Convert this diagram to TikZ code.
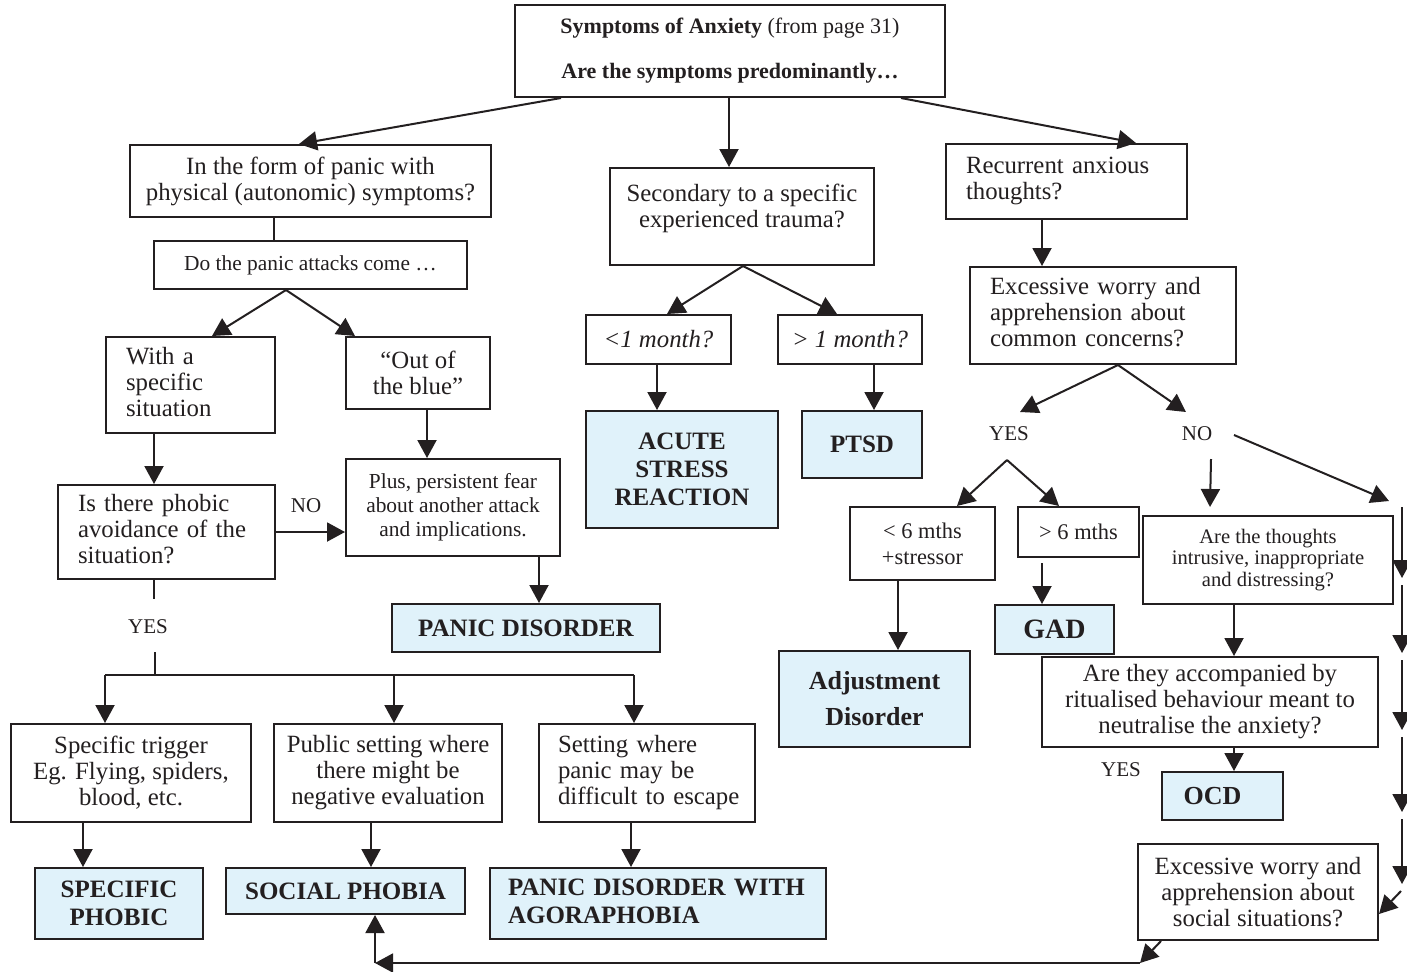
\documentclass[tikz,border=0pt]{standalone}
\usepackage{fontspec}
\setmainfont{Liberation Serif}
\usetikzlibrary{arrows.meta,calc}
\definecolor{dxblue}{RGB}{224,242,250}
\definecolor{ink}{RGB}{35,31,32}
\newcommand{\mybox}[7]{\node[#6,minimum width={(#4-#2)*0.5pt},minimum height={(#5-#3)*0.5pt}] (#1) at ({(#2+#4)/2},{(#3+#5)/2}) {#7};}
\newcommand{\ltab}[1]{\begin{tabular}{@{}l@{}}#1\end{tabular}}
\begin{document}
\begin{tikzpicture}[x=0.5pt,y=-0.5pt,
 box/.style={draw=ink,line width=1pt,fill=white,inner sep=0pt,align=center,text=ink,font=\fontsize{12.4}{13}\selectfont},
 dx/.style={box,fill=dxblue,font=\fontsize{12.5}{14}\selectfont\bfseries},
 lbox/.style={box,align=left,text width=#1},
 arr/.style={draw=ink,line width=1pt,-{Triangle[length=9pt,width=9.5pt]}},
 ln/.style={draw=ink,line width=1pt},
 lab/.style={inner sep=0pt,text=ink,font=\fontsize{10.5}{12}\selectfont}]
\useasboundingbox[fill=white] (0,0) rectangle (1407,971);

% ---- boxes ----
\mybox{top}{515}{5}{945}{97}{box,font=\fontsize{11}{12}\selectfont}{\textbf{Symptoms of Anxiety} (from page 31)\\[10.5pt]\textbf{Are the symptoms predominantly…}}
\mybox{panic}{130}{145}{491}{217}{box}{In the form of panic with\\physical (autonomic) symptoms?}
\mybox{second}{610}{168}{874}{265}{box}{Secondary to a specific\\experienced trauma?\\[-2pt]\mbox{}}
\mybox{recur}{946}{144}{1187}{219}{lbox=100.5pt}{\ltab{Recurrent anxious\\thoughts?}}
\mybox{dopanic}{154}{241}{467}{289}{box,font=\fontsize{10.7}{12}\selectfont}{Do the panic attacks come …}
\mybox{witha}{106}{337}{275}{433}{lbox=64.5pt}{\ltab{With a\\specific\\situation}}
\mybox{outblue}{346}{337}{490}{409}{box}{“Out of\\the blue”}
\mybox{ltone}{586}{315}{731}{364}{box,font=\fontsize{12.4}{13}\selectfont\itshape}{<1 month?}
\mybox{gtone}{778}{315}{922}{364}{box,font=\fontsize{12.4}{13}\selectfont\itshape}{> 1 month?}
\mybox{acute}{586}{411}{778}{528}{dx}{ACUTE\\STRESS\\REACTION}
\mybox{ptsd}{802}{411}{922}{478}{dx}{PTSD}
\mybox{excess}{970}{267}{1236}{364}{lbox=113pt}{\ltab{Excessive worry and\\apprehension about\\common concerns?}}
\mybox{ltsix}{850}{507}{995}{580}{box,font=\fontsize{11.2}{13}\selectfont}{< 6 mths\\+stressor}
\mybox{gtsix}{1018}{507}{1139}{557}{box,font=\fontsize{11.2}{13}\selectfont}{> 6 mths}
\mybox{adj}{779}{651}{970}{747}{dx,font=\fontsize{13}{14}\selectfont\bfseries}{Adjustment\\[4pt]Disorder}
\mybox{gad}{995}{605}{1114}{654}{dx,font=\fontsize{14}{15}\selectfont\bfseries}{GAD}
\mybox{intru}{1143}{516}{1393}{604}{box,font=\fontsize{10.3}{10.6}\selectfont}{Are the thoughts\\intrusive, inappropriate\\and distressing?}
\mybox{accomp}{1042}{657}{1378}{747}{box}{Are they accompanied by\\ritualised behaviour meant to\\neutralise the anxiety?}
\mybox{ocd}{1162}{772}{1283}{820}{dx,font=\fontsize{13}{14}\selectfont\bfseries}{OCD\hspace{10pt}}
\mybox{social}{1138}{844}{1378}{940}{box}{Excessive worry and\\apprehension about\\social situations?}
\mybox{isthere}{58}{485}{275}{579}{lbox=88.5pt}{\ltab{Is there phobic\\avoidance of the\\situation?}}
\mybox{plus}{346}{459}{560}{556}{box,font=\fontsize{10.7}{12}\selectfont}{Plus, persistent fear\\about another attack\\and implications.}
\mybox{pd}{392}{604}{660}{652}{dx}{PANIC DISORDER}
\mybox{trig}{11}{724}{251}{822}{box}{Specific trigger\\Eg. Flying, spiders,\\blood, etc.}
\mybox{public}{274}{724}{502}{822}{box}{Public setting where\\there might be\\negative evaluation}
\mybox{setting}{539}{724}{755}{822}{lbox=89pt}{\ltab{Setting where\\panic may be\\difficult to escape}}
\mybox{spec}{35}{868}{203}{939}{dx}{SPECIFIC\\PHOBIC}
\mybox{socph}{226}{868}{465}{914}{dx}{SOCIAL PHOBIA}
\mybox{pdag}{490}{868}{826}{939}{dx,align=left,text width=150pt}{\ltab{PANIC DISORDER WITH\\AGORAPHOBIA}}

% ---- labels ----
\node[lab] (yesA) at (148,627) {YES};
\node[lab] (noA) at (306,506) {NO};
\node[lab] (yesB) at (1009,434) {YES};
\node[lab] (noB) at (1197,434) {NO};
\node[lab] (yesC) at (1121,770) {YES};

% ---- top level ----
\draw[arr] ($(top.south west)+(47,0)$) -- ($(panic.north west)+(170,0)$);
\draw[arr] ($(top.south west)+(215,0)$) -- ($(second.north west)+(120,0)$);
\draw[arr] ($(top.south east)+(-45,0)$) -- ($(recur.north west)+(191,0)$);

% ---- panic branch ----
\draw[ln] ($(panic.south west)+(145,0)$) -- ($(dopanic.north west)+(121,0)$);
\draw[arr] ($(dopanic.south west)+(133,0)$) -- ($(witha.north west)+(107,0)$);
\draw[arr] ($(dopanic.south west)+(133,0)$) -- ($(outblue.north west)+(10,0)$);
\draw[arr] ($(witha.south west)+(49,0)$) -- ($(isthere.north west)+(97,0)$);
\draw[arr] (isthere.east) -- (isthere.east -| plus.west);
\draw[arr] ($(outblue.south west)+(82,0)$) -- ($(plus.north west)+(82,0)$);
\draw[arr] ($(plus.south west)+(194,0)$) -- ($(pd.north west)+(148,0)$);
\draw[ln] ($(isthere.south west)+(97,0)$) -- ($(isthere.south west)+(97,19)$);
\coordinate (split) at (155,676);
\draw[ln] ($(split)+(0,-24)$) -- (split);
\draw[ln] ($(trig.north west)+(95,-48)$) -- ($(setting.north west)+(96,-48)$);
\draw[arr] ($(trig.north west)+(95,-48)$) -- ($(trig.north west)+(95,0)$);
\draw[arr] ($(public.north west)+(121,-48)$) -- ($(public.north west)+(121,0)$);
\draw[arr] ($(setting.north west)+(96,-48)$) -- ($(setting.north west)+(96,0)$);
\draw[arr] ($(trig.south west)+(73,0)$) -- ($(spec.north west)+(49,0)$);
\draw[arr] ($(public.south west)+(98,0)$) -- ($(socph.north west)+(146,0)$);
\draw[arr] ($(setting.south west)+(93,0)$) -- ($(pdag.north west)+(142,0)$);

% ---- trauma branch ----
\draw[arr] ($(second.south west)+(134,0)$) -- ($(ltone.north west)+(82,0)$);
\draw[arr] ($(second.south west)+(134,0)$) -- ($(gtone.north west)+(60,0)$);
\draw[arr] ($(ltone.south west)+(72,0)$) -- ($(acute.north west)+(72,0)$);
\draw[arr] ($(gtone.south west)+(97,0)$) -- ($(ptsd.north west)+(73,0)$);

% ---- thoughts branch ----
\draw[arr] ($(recur.south west)+(97,0)$) -- ($(excess.north west)+(73,0)$);
\draw[arr] ($(excess.south west)+(149,0)$) -- ($(yesB)+(11,-22)$);
\draw[arr] ($(excess.south west)+(149,0)$) -- ($(noB)+(-11,-22)$);
\draw[arr] ($(yesB)+(-2,26)$) -- ($(ltsix.north west)+(108,0)$);
\draw[arr] ($(yesB)+(-2,26)$) -- ($(gtsix.north west)+(42,0)$);
\draw[arr] ($(ltsix.south west)+(49,0)$) -- ($(adj.north west)+(120,0)$);
\draw[arr] ($(gtsix.south west)+(25,5)$) -- ($(gad.north west)+(48,0)$);
\draw[arr] ($(noB)+(14,25)$) -- ($(intru.north west)+(68,-8)$);
\draw[arr] ($(noB)+(37,1)$) -- ($(intru.north east)+(-5,-14)$);
\draw[arr] ($(intru.south west)+(92,0)$) -- ($(accomp.north west)+(193,0)$);
\draw[arr] ($(accomp.south west)+(193,0)$) -- ($(ocd.north west)+(73,0)$);

% ---- right-hand chain ----
\coordinate (ra) at (1402,507);
\coordinate (rb) at (1402,578);
\coordinate (rc) at (1402,585);
\coordinate (rd) at (1402,653);
\coordinate (re) at (1402,660);
\coordinate (rf) at (1402,730);
\coordinate (rg) at (1402,737);
\coordinate (rh) at (1402,812);
\coordinate (ri) at (1402,819);
\coordinate (rj) at (1402,884);
\coordinate (rk) at (1401,891);
\draw[arr] (ra) -- (rb);
\draw[arr] (rc) -- (rd);
\draw[arr] (re) -- (rf);
\draw[arr] (rg) -- (rh);
\draw[arr] (ri) -- (rj);
\draw[arr] (rk) -- ($(social.south east)+(0,-27)$);

% ---- return path ----
\coordinate (bend) at (1140,963);
\coordinate (corner) at (375,963);
\draw[arr] ($(social.south west)+(24,0)$) -- (bend);
\draw[arr] (bend) -- (corner);
\draw[arr] (corner) -- (corner |- socph.south);
\end{tikzpicture}
\end{document}
